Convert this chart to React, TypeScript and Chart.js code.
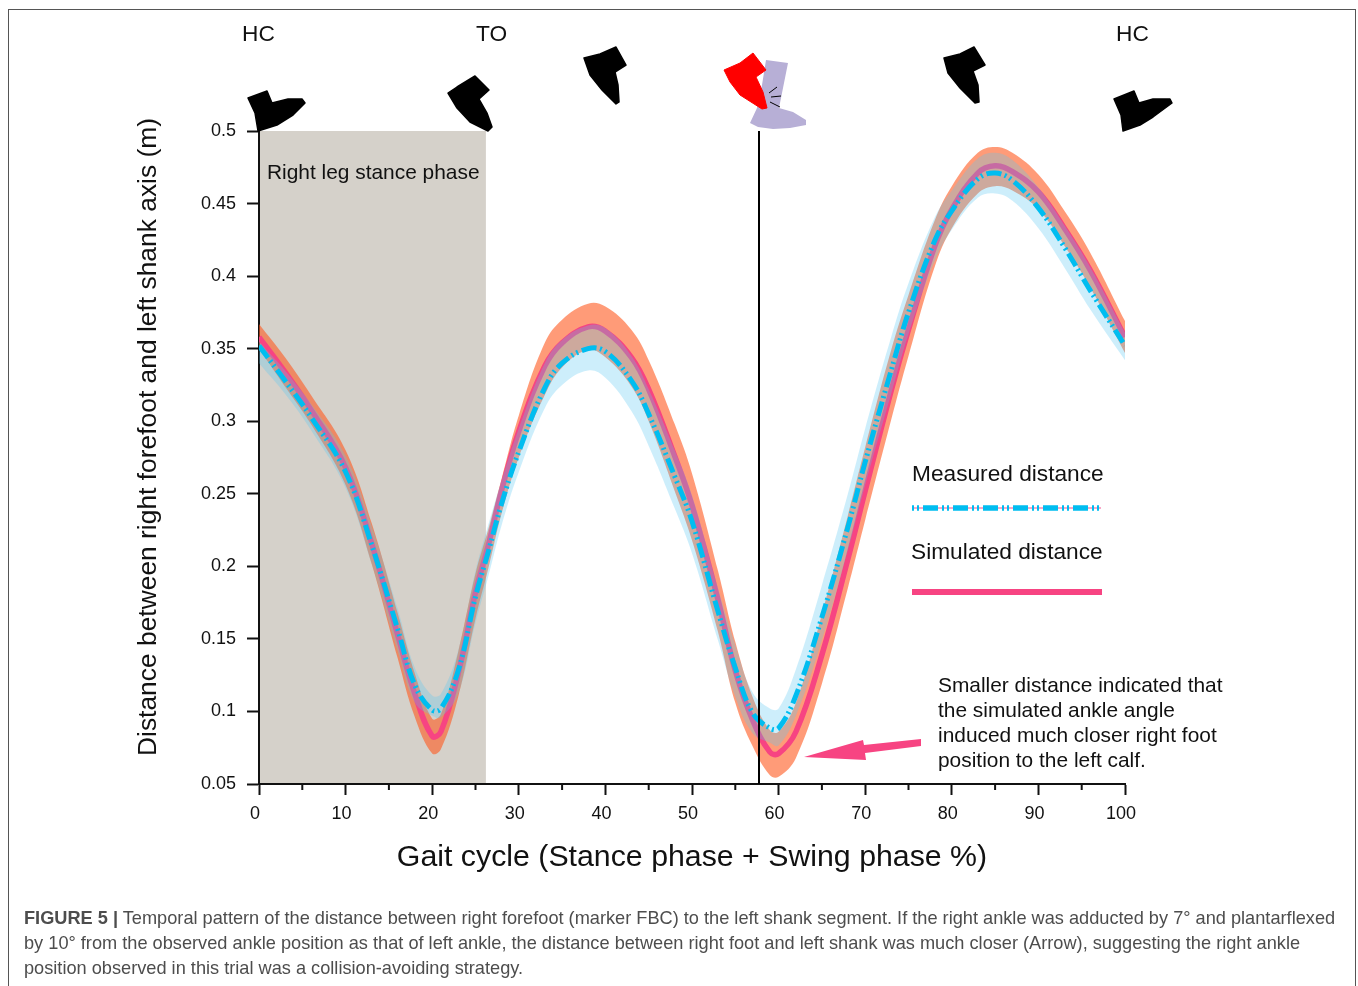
import React, { useEffect, useRef } from "react";
import { Chart, registerables } from "chart.js";

Chart.register(...registerables);

const FONT = '"Liberation Sans", Arial, sans-serif';

const gaitPercent = [0, 3, 6, 10, 13, 16, 18, 20, 21, 23, 25, 26.5, 28, 30, 33, 35, 38, 40, 43, 45, 48, 50, 53, 55, 57, 59, 60, 62, 65, 68, 70, 73, 75, 78, 80, 83, 85, 87, 90, 93, 96, 100];
const measured = [.352, .328, .303, .265, .215, .157, .118, .101, .102, .128, .179, .2105, .243, .279, .323, .34, .35, .348, .328, .305, .262, .231, .169, .13, .099, .0885, .0885, .111, .165, .227, .272, .335, .375, .424, .445, .467, .471, .466, .447, .42, .39, .352];
const simulated = [.358, .334, .308, .268, .216, .153, .112, .083, .086, .126, .182, .215, .252, .293, .338, .354, .365, .362, .344, .322, .276, .242, .177, .128, .094, .072, .071, .086, .139, .205, .252, .321, .363, .420, .446, .471, .476, .472, .458, .433, .404, .358];
const simulatedUpper = [.367, .344, .318, .280, .230, .168, .126, .095, .098, .141, .195, .226, .260, .304, .354, .370, .381, .379, .363, .342, .298, .264, .197, .148, .110, .087, .086, .106, .167, .235, .282, .349, .387, .438, .462, .485, .489, .485, .470, .445, .416, .369];
const simulatedLower = [.350, .324, .298, .256, .202, .137, .096, .071, .074, .110, .164, .199, .236, .275, .318, .337, .349, .344, .324, .300, .252, .218, .155, .106, .076, .056, .055, .068, .119, .185, .232, .301, .345, .406, .433, .457, .462, .459, .446, .421, .392, .347];
const measuredUpper = [.355, .335, .312, .276, .228, .171, .130, .111, .112, .142, .197, .229, .259, .295, .340, .356, .366, .364, .345, .322, .280, .249, .185, .146, .113, .102, .102, .129, .187, .250, .295, .358, .395, .440, .459, .481, .485, .480, .461, .435, .406, .361];
const measuredLower = [.340, .319, .294, .254, .202, .142, .106, .097, .096, .112, .161, .1935, .228, .265, .309, .325, .335, .330, .307, .283, .240, .209, .149, .110, .085, .0785, .0765, .097, .149, .211, .256, .319, .360, .410, .432, .454, .457, .452, .433, .406, .377, .342];

const minorTicks = [5, 15, 25, 35, 45, 55, 65, 75, 85, 95];
const stanceEnd = 26.2;
const collisionAt = 57.7;

const yAxisTitle = "Distance between right forefoot and left shank axis (m)";
const xAxisTitle = "Gait cycle (Stance phase + Swing phase %)";
const captionLines = [
  " Temporal pattern of the distance between right forefoot (marker FBC) to the left shank segment. If the right ankle was adducted by 7° and plantarflexed",
  "by 10° from the observed ankle position as that of left ankle, the distance between right foot and left shank was much closer (Arrow), suggesting the right ankle",
  "position observed in this trial was a collision-avoiding strategy.",
];

const PINK = "#f74482";
const CYAN = "#00bdf0";
const DASH = [15, 3.5, 2, 3.5, 2, 4];

type P = [number, number];
const footLeft: P[] = [[248, 98], [267, 91], [272, 103], [288, 99], [302, 99], [305, 103], [293, 115], [277, 125], [258, 131], [255, 113]];
const footToeOff: P[] = [[448, 93], [457, 87], [475, 76], [489, 90], [479, 99], [487, 113], [492, 127], [488, 131], [470, 122], [457, 108]];
const footSwing1: P[] = [[584, 58], [600, 54], [616, 47], [626, 65], [615, 72], [618, 85], [619, 102], [616, 104], [602, 90], [590, 75]];
const footSwing2: P[] = [[944, 58], [960, 54], [974, 47], [985, 65], [973, 71], [978, 85], [979, 102], [975, 103], [960, 88], [948, 73]];
const footRight: P[] = [[1114, 99], [1134, 91], [1139, 103], [1153, 99], [1170, 99], [1172, 103], [1153, 117], [1140, 125], [1123, 131], [1121, 115]];
const footRed: P[] = [[724, 70], [740, 63], [753, 53], [766, 70], [756, 77], [763, 92], [767, 108], [762, 109], [740, 95], [730, 82]];
const footLilac: P[] = [[766, 60], [788, 63], [779, 108], [793, 112], [806, 120], [806, 125], [790, 128], [773, 129], [758, 127], [750, 123], [757, 108], [762, 85]];
const arrow: P[] = [[804, 757], [863, 740], [864, 745], [921, 739], [921, 746], [865, 753], [866, 760]];

function poly(ctx: CanvasRenderingContext2D, pts: P[], color: string, fat = 0) {
  ctx.fillStyle = color;
  ctx.beginPath();
  pts.forEach(([x, y], i) => (i ? ctx.lineTo(x, y) : ctx.moveTo(x, y)));
  ctx.closePath();
  ctx.fill();
  if (fat) {
    ctx.strokeStyle = color;
    ctx.lineWidth = fat;
    ctx.lineJoin = "round";
    ctx.stroke();
  }
}

function text(ctx: CanvasRenderingContext2D, s: string, x: number, y: number, size: number) {
  ctx.fillStyle = "#111";
  ctx.font = `${size}px ${FONT}`;
  ctx.textAlign = "left";
  ctx.textBaseline = "middle";
  ctx.fillText(s, x, y);
}

const underlay = {
  id: "underlay",
  beforeDraw(chart: any) {
    const { ctx, scales: { x, y } } = chart;
    ctx.save();
    ctx.fillStyle = "#d5d1ca";
    ctx.fillRect(x.getPixelForValue(0), y.getPixelForValue(0.5), x.getPixelForValue(stanceEnd) - x.getPixelForValue(0), y.getPixelForValue(0.05) - y.getPixelForValue(0.5));
    ctx.restore();
  },
};

const overlay = {
  id: "overlay",
  afterDraw(chart: any) {
    const { ctx, scales: { x, y } } = chart;
    ctx.save();
    // minor x ticks
    ctx.strokeStyle = "#111";
    ctx.lineWidth = 2;
    minorTicks.forEach((t) => {
      const px = x.getPixelForValue(t);
      ctx.beginPath();
      ctx.moveTo(px, 784);
      ctx.lineTo(px, 790);
      ctx.stroke();
    });
    // collision marker
    const cx = Math.round(x.getPixelForValue(collisionAt));
    ctx.strokeStyle = "#000";
    ctx.beginPath();
    ctx.moveTo(cx, y.getPixelForValue(0.5));
    ctx.lineTo(cx, y.getPixelForValue(0.05));
    ctx.stroke();

    // feet
    [footLeft, footToeOff, footSwing1, footSwing2, footRight].forEach((f) => poly(ctx, f, "#000", 1.5));
    poly(ctx, footLilac, "#b7afd6");
    poly(ctx, footRed, "#ff0000", 1);
    ctx.strokeStyle = "#000";
    ctx.lineWidth = 1;
    [[769, 93, 777, 87], [771, 97, 781, 96], [770, 102, 780, 107]].forEach(([a, b, c, d]) => {
      ctx.beginPath();
      ctx.moveTo(a, b);
      ctx.lineTo(c, d);
      ctx.stroke();
    });

    // arrow
    poly(ctx, arrow, PINK);

    // legend keys
    ctx.strokeStyle = "#f7a8c8";
    ctx.lineWidth = 2;
    ctx.beginPath();
    ctx.moveTo(912, 508);
    ctx.lineTo(1101, 508);
    ctx.stroke();
    ctx.strokeStyle = CYAN;
    ctx.lineWidth = 5.5;
    ctx.setLineDash([2, 3, 2, 4, 15, 4]);
    ctx.beginPath();
    ctx.moveTo(912, 508);
    ctx.lineTo(1101, 508);
    ctx.stroke();
    ctx.setLineDash([]);
    ctx.strokeStyle = PINK;
    ctx.lineWidth = 6;
    ctx.beginPath();
    ctx.moveTo(912, 592);
    ctx.lineTo(1102, 592);
    ctx.stroke();

    // texts
    text(ctx, "HC", 242, 35, 22.7);
    text(ctx, "TO", 476, 35, 22.7);
    text(ctx, "HC", 1116, 35, 22.7);
    text(ctx, "Right leg stance phase", 267, 173, 20.9);
    text(ctx, "Measured distance", 912, 475, 22.7);
    text(ctx, "Simulated distance", 911, 553, 22.7);
    text(ctx, "Smaller distance indicated that", 938, 686, 20.9);
    text(ctx, "the simulated ankle angle", 938, 711, 20.9);
    text(ctx, "induced much closer right foot", 938, 736, 20.9);
    text(ctx, "position to the left calf.", 938, 761, 20.9);

    ctx.save();
    ctx.translate(149, 437);
    ctx.rotate(-Math.PI / 2);
    ctx.fillStyle = "#111";
    ctx.font = `26.4px ${FONT}`;
    ctx.textAlign = "center";
    ctx.textBaseline = "middle";
    ctx.fillText(yAxisTitle, 0, 0);
    ctx.restore();
    ctx.restore();
  },
};

function pts(values: number[]) {
  return values.map((v, i) => ({ x: gaitPercent[i], y: v }));
}

export default function App() {
  const ref = useRef<HTMLCanvasElement>(null);
  useEffect(() => {
    const band = { borderWidth: 0, pointRadius: 0, tension: 0.4 };
    const chart = new Chart(ref.current!, {
      type: "line",
      data: {
        datasets: [
          { label: "Simulated upper", data: pts(simulatedUpper), ...band, fill: 1, backgroundColor: "rgba(255,88,30,0.6)", order: 6 },
          { label: "Simulated lower", data: pts(simulatedLower), ...band, fill: false, order: 5 },
          { label: "Simulated distance", data: pts(simulated), pointRadius: 0, borderColor: PINK, borderWidth: 5.5, fill: false, tension: 0.4, order: 4 },
          { label: "Measured upper", data: pts(measuredUpper), ...band, fill: 4, backgroundColor: "rgba(88,198,242,0.3)", order: 3 },
          { label: "Measured lower", data: pts(measuredLower), ...band, fill: false, order: 2 },
          { label: "Measured distance", data: pts(measured), pointRadius: 0, borderColor: CYAN, borderWidth: 5, borderDash: DASH, fill: false, tension: 0.4, order: 1 },
        ],
      } as any,
      options: {
        responsive: false,
        animation: false,
        layout: { padding: { left: 0, top: 131, right: 233, bottom: 0 } },
        plugins: { legend: { display: false }, tooltip: { enabled: false } },
        scales: {
          x: {
            type: "linear",
            min: 0,
            max: 100,
            afterFit: (s: any) => { s.height = 202; },
            grid: { drawOnChartArea: false, tickLength: 11, tickColor: "#111", tickWidth: 2 },
            border: { color: "#111", width: 2 },
            ticks: { stepSize: 10, color: "#111", font: { family: FONT, size: 18 }, padding: 8, labelOffset: -4, maxRotation: 0 },
            title: { display: true, text: xAxisTitle, color: "#111", font: { family: FONT, size: 30.3 }, padding: { top: 0, bottom: 110.5 } },
          },
          y: {
            type: "linear",
            min: 0.05,
            max: 0.5,
            afterFit: (s: any) => { s.width = 259; },
            grid: { drawOnChartArea: false, tickLength: 12, tickColor: "#111", tickWidth: 2 },
            border: { color: "#111", width: 2 },
            ticks: { stepSize: 0.05, color: "#111", font: { family: FONT, size: 18 }, padding: 11, callback: (v: any) => String(+Number(v).toFixed(2)) },
          },
        },
      } as any,
      plugins: [underlay, overlay],
    });
    return () => chart.destroy();
  }, []);

  const capStyle: React.CSSProperties = { position: "absolute", left: 24, whiteSpace: "nowrap", font: `18.2px ${FONT}`, color: "#4d4d4d", lineHeight: "25px" };
  return (
    <div style={{ position: "fixed", left: 0, top: 0, width: 1358, height: 986, overflow: "hidden", background: "#fff" }}>
      <canvas ref={ref} width={1358} height={986} style={{ position: "absolute", left: 0, top: 0, width: 1358, height: 986 }} />
      <div style={{ position: "absolute", left: 8, top: 9, width: 1348, height: 1000, border: "1px solid #555", boxSizing: "border-box" }} />
      <div style={{ ...capStyle, top: 906 }}><b>FIGURE 5 |</b>{captionLines[0]}</div>
      <div style={{ ...capStyle, top: 931 }}>{captionLines[1]}</div>
      <div style={{ ...capStyle, top: 956 }}>{captionLines[2]}</div>
    </div>
  );
}
